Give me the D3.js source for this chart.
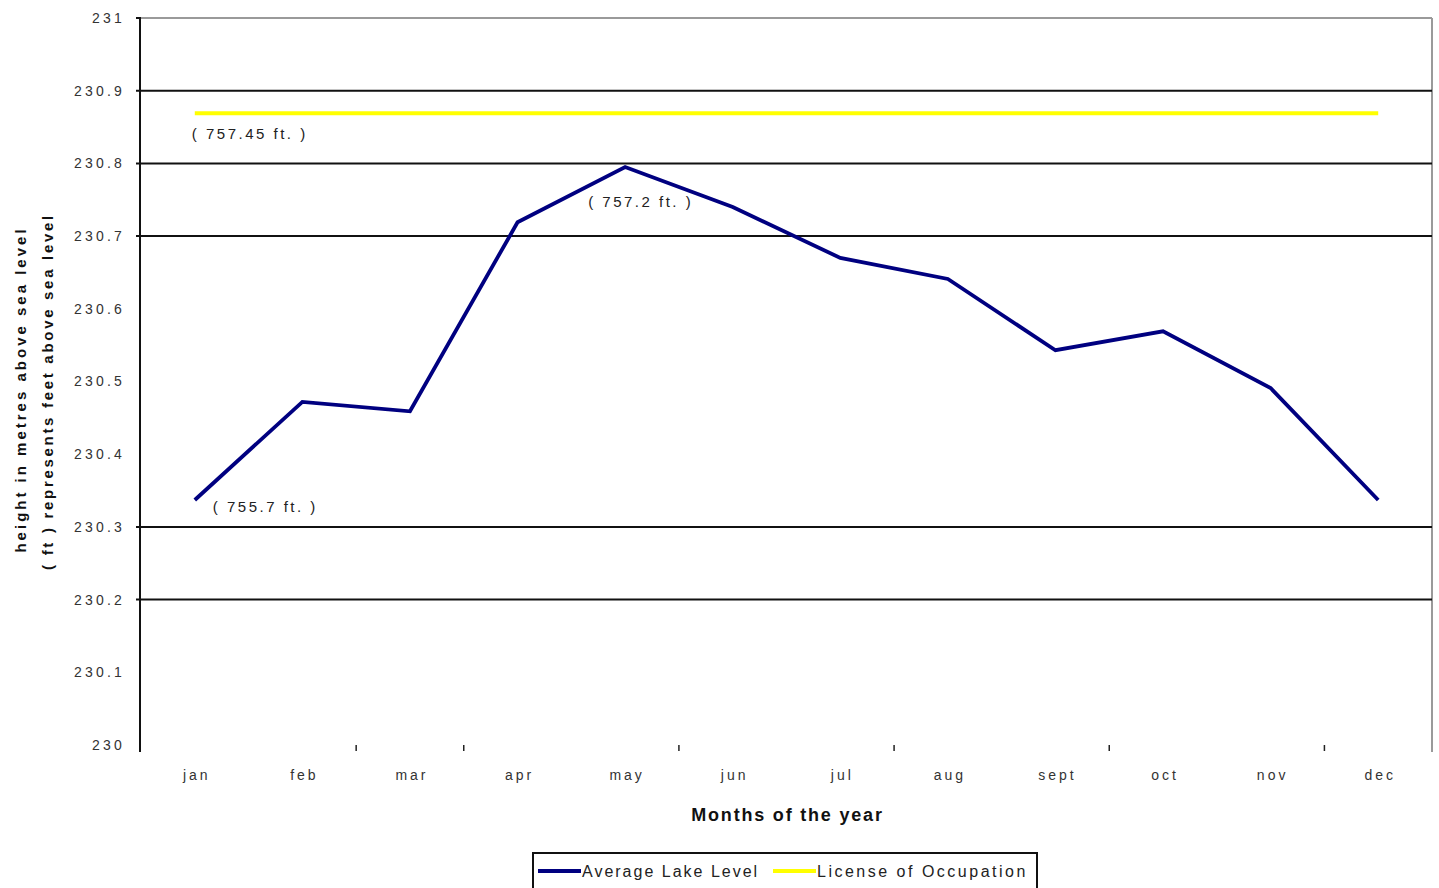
<!DOCTYPE html>
<html>
<head>
<meta charset="utf-8">
<script src="https://cdn.jsdelivr.net/npm/d3@7"></script>
<style>
  html, body { margin: 0; padding: 0; background: #fff; }
  svg { display: block; font-family: "Liberation Sans", Arial, sans-serif; }
</style>
</head>
<body>
<svg id="chart" width="1439" height="888"></svg>
<script>
// ---- data ----
const months = ["jan", "feb", "mar", "apr", "may", "jun", "jul", "aug", "sept", "oct", "nov", "dec"];
const lakeLevel = [230.337, 230.472, 230.459, 230.719, 230.795, 230.740, 230.670, 230.641, 230.543, 230.569, 230.491, 230.337];
const licenseLevel = [230.869, 230.869, 230.869, 230.869, 230.869, 230.869, 230.869, 230.869, 230.869, 230.869, 230.869, 230.869];
const yTicks = [230, 230.1, 230.2, 230.3, 230.4, 230.5, 230.6, 230.7, 230.8, 230.9, 231];
const gridValues = [230.2, 230.3, 230.7, 230.8, 230.9];
const xTickBoundaries = [2, 3, 5, 7, 9, 11];
const annotations = [
  { month: "jan", value: 230.869, text: "( 757.45 ft. )" },
  { month: "may", value: 230.795, text: "( 757.2 ft. )" },
  { month: "jan", value: 230.337, text: "( 755.7 ft. )" }
];
const seriesNames = ["Average Lake Level", "License of Occupation"];
const seriesColors = ["#000080", "#ffff00"];

(function () {
// ---- layout ----
const pLeft = 141, pRight = 1432, pTop = 18, pBottom = 745;
const svg = d3.select("#chart");

const x = d3.scalePoint().domain(months).range([pLeft, pRight]).padding(0.5);
const y = d3.scaleLinear().domain([230, 231]).range([pBottom, pTop]);
const step = x.step();

// top border & right border (gray)
svg.append("line").attr("x1", pLeft).attr("x2", pRight).attr("y1", y(231)).attr("y2", y(231))
  .attr("stroke", "#9a9a9a").attr("stroke-width", 2);
svg.append("line").attr("x1", pRight).attr("x2", pRight).attr("y1", y(231)).attr("y2", pBottom + 7)
  .attr("stroke", "#9a9a9a").attr("stroke-width", 2);

// gridlines
svg.append("g").selectAll("line").data(gridValues).join("line")
  .attr("x1", pLeft - 5).attr("x2", pRight)
  .attr("y1", d => y(d)).attr("y2", d => y(d))
  .attr("stroke", "#111").attr("stroke-width", 2);

// y axis
const yAxis = d3.axisLeft(y).tickValues(yTicks)
  .tickFormat(d => String(+d.toFixed(1)))
  .tickSize(0).tickPadding(16);
const gy = svg.append("g").attr("transform", `translate(${pLeft},0)`).call(yAxis);
gy.select(".domain").remove();
gy.selectAll("text").attr("font-size", 14).attr("fill", "#333").attr("letter-spacing", 3.2);
svg.append("line").attr("x1", pLeft - 1).attr("x2", pLeft - 1).attr("y1", y(231)).attr("y2", pBottom + 7)
  .attr("stroke", "#111").attr("stroke-width", 2);
svg.append("line").attr("x1", pLeft - 5).attr("x2", pLeft).attr("y1", y(231)).attr("y2", y(231))
  .attr("stroke", "#111").attr("stroke-width", 2);

// x axis (labels and boundary ticks)
const xAxis = d3.axisBottom(x).tickSize(0).tickPadding(25);
const gx = svg.append("g").attr("transform", `translate(0,${pBottom})`).call(xAxis);
gx.select(".domain").remove();
gx.selectAll("text").attr("font-size", 14).attr("fill", "#333").attr("letter-spacing", 3)
  .attr("dx", 1.5);
svg.append("g").selectAll("line").data(xTickBoundaries).join("line")
  .attr("x1", d => x(months[d]) - step / 2).attr("x2", d => x(months[d]) - step / 2)
  .attr("y1", pBottom).attr("y2", pBottom + 6)
  .attr("stroke", "#222").attr("stroke-width", 1.5);

// license line
const line = d3.line().x((d, i) => x(months[i])).y(d => y(d));
svg.append("path").datum(licenseLevel).attr("d", line)
  .attr("fill", "none").attr("stroke", seriesColors[1]).attr("stroke-width", 4);

// lake level line
svg.append("path").datum(lakeLevel).attr("d", line)
  .attr("fill", "none").attr("stroke", seriesColors[0]).attr("stroke-width", 3.8)
  .attr("stroke-linejoin", "miter");

// annotations
const annOffsets = [[-3, 26], [-37, 40], [18, 12]];
svg.append("g").selectAll("text").data(annotations).join("text")
  .attr("x", (d, i) => x(d.month) + annOffsets[i][0])
  .attr("y", (d, i) => y(d.value) + annOffsets[i][1])
  .attr("font-size", 15).attr("fill", "#222").attr("letter-spacing", 2.5)
  .text(d => d.text);

// axis titles
svg.append("text")
  .attr("transform", `translate(26,${(pTop + pBottom) / 2 + 8}) rotate(-90)`)
  .attr("text-anchor", "middle").attr("font-size", 15).attr("font-weight", "bold").attr("fill", "#111")
  .attr("letter-spacing", 3)
  .text("height in metres above sea level");
svg.append("text")
  .attr("transform", `translate(53,${(pTop + pBottom) / 2 + 10}) rotate(-90)`)
  .attr("text-anchor", "middle").attr("font-size", 15).attr("font-weight", "bold").attr("fill", "#111")
  .attr("letter-spacing", 2.7)
  .text("( ft ) represents feet above sea level");
svg.append("text")
  .attr("x", (pLeft + pRight) / 2 + 1).attr("y", 821)
  .attr("text-anchor", "middle").attr("font-size", 18).attr("font-weight", "bold").attr("fill", "#111")
  .attr("letter-spacing", 1.8)
  .text("Months of the year");

// legend
const lg = svg.append("g");
lg.append("rect").attr("x", 533).attr("y", 853).attr("width", 504).attr("height", 40)
  .attr("fill", "#fff").attr("stroke", "#111").attr("stroke-width", 2);
const legendX = [538, 773];
const legendSpacing = [2, 2.5];
seriesNames.forEach((name, i) => {
  lg.append("line").attr("x1", legendX[i]).attr("x2", legendX[i] + 43)
    .attr("y1", 871).attr("y2", 871)
    .attr("stroke", seriesColors[i]).attr("stroke-width", 4);
  lg.append("text").attr("x", legendX[i] + 44).attr("y", 877)
    .attr("font-size", 16).attr("fill", "#222").attr("letter-spacing", legendSpacing[i]).text(name);
});
})();
</script>
</body>
</html>
